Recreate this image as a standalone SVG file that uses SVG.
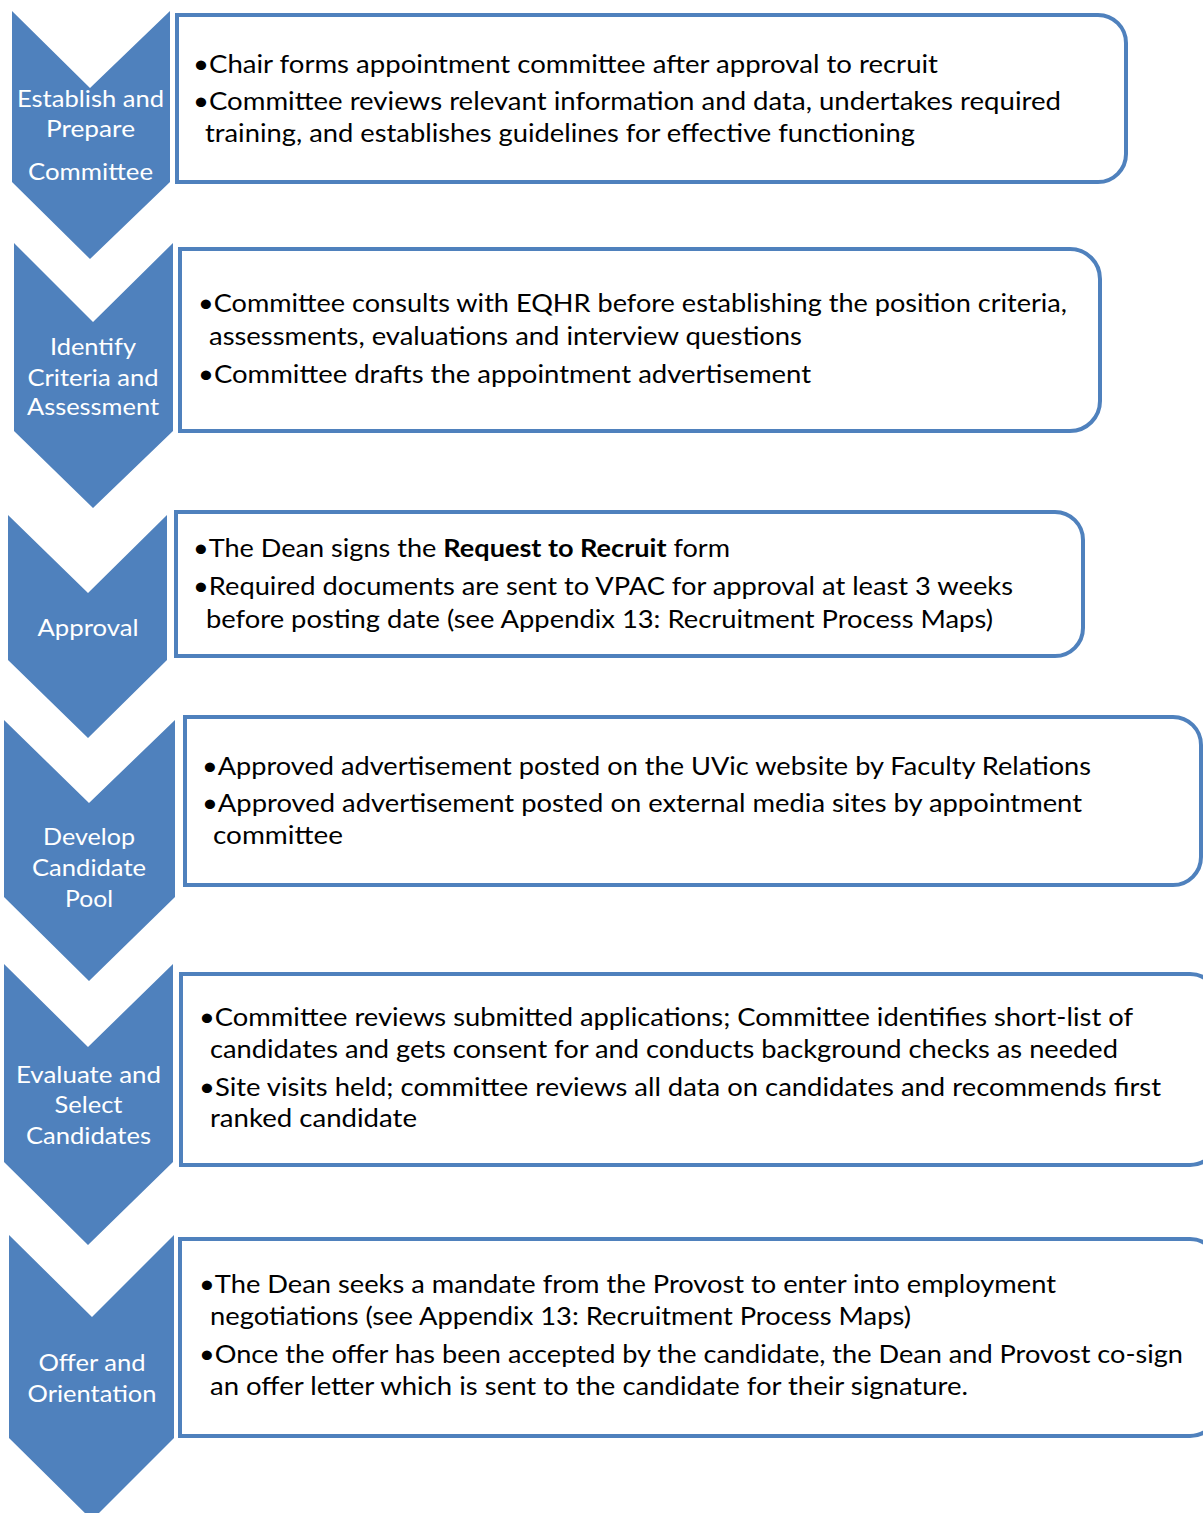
<svg xmlns="http://www.w3.org/2000/svg" width="1203" height="1513" viewBox="0 0 1203 1513">
<style>
.chev{fill:#4F81BD;stroke:none}
.box{fill:#FFFFFF;stroke:#4F81BD;stroke-width:4}
.lbl{font-family:Lato,"Open Sans","Liberation Sans",sans-serif;font-size:23px;fill:#FFFFFF;text-anchor:middle}
.txt{font-family:Lato,"Open Sans","Liberation Sans",sans-serif;font-size:25px;fill:#000000}
.b{font-weight:bold}
</style>
<rect width="1203" height="1513" fill="#FFFFFF"/>
<g id="connectors"/>

<g id="step1">
<g id="chevron1">
<polygon class="chev" points="12,11 90,88 170,11 170,182 90,259 12,182"/>
<text class="lbl" x="90.5" y="107" textLength="147" lengthAdjust="spacingAndGlyphs">Establish and</text>
<text class="lbl" x="90.5" y="137" textLength="89" lengthAdjust="spacingAndGlyphs">Prepare</text>
<text class="lbl" x="90.5" y="180" textLength="125" lengthAdjust="spacingAndGlyphs">Committee</text>
</g>
<g id="box1">
<path class="box" d="M177,15 H1098 A28,28 0 0 1 1126,43 V154 A28,28 0 0 1 1098,182 H177 Z"/>
<text class="txt" x="193" y="73" textLength="745" lengthAdjust="spacingAndGlyphs">•Chair forms appointment committee after approval to recruit</text>
<text class="txt" x="193" y="110" textLength="868" lengthAdjust="spacingAndGlyphs">•Committee reviews relevant information and data, undertakes required</text>
<text class="txt" x="205" y="142" textLength="710" lengthAdjust="spacingAndGlyphs">training, and establishes guidelines for effective functioning</text>
</g>
</g>

<g id="step2">
<g id="chevron2">
<polygon class="chev" points="14,243 93,322 173,243 173,431 93,508 14,431"/>
<text class="lbl" x="93" y="355" textLength="86" lengthAdjust="spacingAndGlyphs">Identify</text>
<text class="lbl" x="93" y="386" textLength="131" lengthAdjust="spacingAndGlyphs">Criteria and</text>
<text class="lbl" x="93" y="415" textLength="132" lengthAdjust="spacingAndGlyphs">Assessment</text>
</g>
<g id="box2">
<path class="box" d="M180,249 H1070 A30,30 0 0 1 1100,279 V401 A30,30 0 0 1 1070,431 H180 Z"/>
<text class="txt" x="198" y="312" textLength="869" lengthAdjust="spacingAndGlyphs">•Committee consults with EQHR before establishing the position criteria,</text>
<text class="txt" x="209" y="345" textLength="593" lengthAdjust="spacingAndGlyphs">assessments, evaluations and interview questions</text>
<text class="txt" x="198" y="383" textLength="613" lengthAdjust="spacingAndGlyphs">•Committee drafts the appointment advertisement</text>
</g>
</g>

<g id="step3">
<g id="chevron3">
<polygon class="chev" points="8,515 88,593 167,515 167,660 88,738 8,660"/>
<text class="lbl" x="88" y="636" textLength="101" lengthAdjust="spacingAndGlyphs">Approval</text>
</g>
<g id="box3">
<path class="box" d="M176,512 H1055 A28,28 0 0 1 1083,540 V628 A28,28 0 0 1 1055,656 H176 Z"/>
<text class="txt" x="193" y="557" textLength="537" lengthAdjust="spacingAndGlyphs">•The Dean signs the <tspan class="b">Request to Recruit</tspan> form</text>
<text class="txt" x="193" y="595" textLength="820" lengthAdjust="spacingAndGlyphs">•Required documents are sent to VPAC for approval at least 3 weeks</text>
<text class="txt" x="206" y="628" textLength="787" lengthAdjust="spacingAndGlyphs">before posting date (see Appendix 13: Recruitment Process Maps)</text>
</g>
</g>

<g id="step4">
<g id="chevron4">
<polygon class="chev" points="4,720 89,803 175,720 175,897 89,981 4,897"/>
<text class="lbl" x="89" y="845" textLength="92" lengthAdjust="spacingAndGlyphs">Develop</text>
<text class="lbl" x="89" y="876" textLength="114" lengthAdjust="spacingAndGlyphs">Candidate</text>
<text class="lbl" x="89" y="907" textLength="48" lengthAdjust="spacingAndGlyphs">Pool</text>
</g>
<g id="box4">
<path class="box" d="M185,717 H1173 A28,28 0 0 1 1201,745 V857 A28,28 0 0 1 1173,885 H185 Z"/>
<text class="txt" x="202" y="775" textLength="889" lengthAdjust="spacingAndGlyphs">•Approved advertisement posted on the UVic website by Faculty Relations</text>
<text class="txt" x="202" y="812" textLength="880" lengthAdjust="spacingAndGlyphs">•Approved advertisement posted on external media sites by appointment</text>
<text class="txt" x="213" y="844" textLength="130" lengthAdjust="spacingAndGlyphs">committee</text>
</g>
</g>

<g id="step5">
<g id="chevron5">
<polygon class="chev" points="4,964 88,1047 173,964 173,1162 88,1245 4,1162"/>
<text class="lbl" x="88.5" y="1083" textLength="145" lengthAdjust="spacingAndGlyphs">Evaluate and</text>
<text class="lbl" x="88.5" y="1113" textLength="68" lengthAdjust="spacingAndGlyphs">Select</text>
<text class="lbl" x="88.5" y="1144" textLength="125" lengthAdjust="spacingAndGlyphs">Candidates</text>
</g>
<g id="box5">
<path class="box" d="M181,974 H1190 A28,28 0 0 1 1218,1002 V1137 A28,28 0 0 1 1190,1165 H181 Z"/>
<text class="txt" x="199" y="1026" textLength="934" lengthAdjust="spacingAndGlyphs">•Committee reviews submitted applications; Committee identifies short-list of</text>
<text class="txt" x="210" y="1058" textLength="908" lengthAdjust="spacingAndGlyphs">candidates and gets consent for and conducts background checks as needed</text>
<text class="txt" x="199" y="1096" textLength="962" lengthAdjust="spacingAndGlyphs">•Site visits held; committee reviews all data on candidates and recommends first</text>
<text class="txt" x="210" y="1127" textLength="207" lengthAdjust="spacingAndGlyphs">ranked candidate</text>
</g>
</g>

<g id="step6">
<g id="chevron6">
<polygon class="chev" points="9,1235 92,1317 174,1235 174,1438 92,1520 9,1438"/>
<text class="lbl" x="92" y="1371" textLength="107" lengthAdjust="spacingAndGlyphs">Offer and</text>
<text class="lbl" x="92" y="1402" textLength="129" lengthAdjust="spacingAndGlyphs">Orientation</text>
</g>
<g id="box6">
<path class="box" d="M180,1239 H1190 A28,28 0 0 1 1218,1267 V1408 A28,28 0 0 1 1190,1436 H180 Z"/>
<text class="txt" x="199" y="1293" textLength="857" lengthAdjust="spacingAndGlyphs">•The Dean seeks a mandate from the Provost to enter into employment</text>
<text class="txt" x="210" y="1325" textLength="701" lengthAdjust="spacingAndGlyphs">negotiations (see Appendix 13: Recruitment Process Maps)</text>
<text class="txt" x="199" y="1363" textLength="984" lengthAdjust="spacingAndGlyphs">•Once the offer has been accepted by the candidate, the Dean and Provost co-sign</text>
<text class="txt" x="210" y="1395" textLength="758" lengthAdjust="spacingAndGlyphs">an offer letter which is sent to the candidate for their signature.</text>
</g>
</g>
</svg>
